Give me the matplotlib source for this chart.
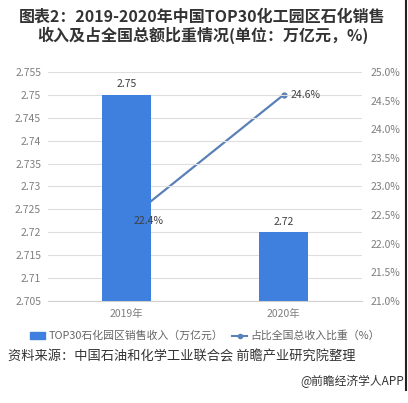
import matplotlib
matplotlib.use("Agg")
import matplotlib.pyplot as plt
from matplotlib.lines import Line2D
from matplotlib.patches import Patch

plt.rcParams['font.family'] = ['Noto Sans CJK SC', 'DejaVu Sans']

categories = ["2019年", "2020年"]
revenue = [2.75, 2.72]
share = [22.4, 24.6]
left_ticks = [2.705, 2.71, 2.715, 2.72, 2.725, 2.73, 2.735, 2.74, 2.745, 2.75, 2.755]
left_labels = ["2.705", "2.71", "2.715", "2.72", "2.725", "2.73", "2.735", "2.74", "2.745", "2.75", "2.755"]
right_ticks = [21.0, 21.5, 22.0, 22.5, 23.0, 23.5, 24.0, 24.5, 25.0]
right_labels = ["21.0%", "21.5%", "22.0%", "22.5%", "23.0%", "23.5%", "24.0%", "24.5%", "25.0%"]

bar_color = "#3f7fdd"
line_color = "#5a80b8"
tick_color = "#7f7f7f"

fig = plt.figure(figsize=(4.08, 4.03), dpi=100)
ax = fig.add_axes([48/408, 1-301/403, (362-48)/408, (301-72)/403])
ax.set_xlim(-0.5, 1.5)
ax.set_ylim(2.705, 2.755)
x = list(range(len(categories)))
ax.bar(x, revenue, width=0.31, color=bar_color, zorder=3)
ax.set_yticks(left_ticks)
ax.set_yticklabels(left_labels)
ax.set_xticks(x)
ax.set_xticklabels(categories)
ax.grid(axis='y', color="#dedede", linewidth=0.8, zorder=0)
for s in ['top', 'right', 'left']:
    ax.spines[s].set_visible(False)
ax.spines['bottom'].set_color("#d0d0d0")
ax.tick_params(axis='both', length=0, colors=tick_color, labelsize=7.5)
ax.tick_params(axis='y', pad=5)
ax.tick_params(axis='x', pad=6)
for xi, v in zip(x, revenue):
    ax.annotate(f"{v:.2f}", (xi, v), xytext=(0, 4), textcoords='offset points',
                ha='center', va='bottom', fontsize=7.5, color="#404040", zorder=5)

ax2 = ax.twinx()
ax2.set_ylim(21.0, 25.0)
ax2.set_yticks(right_ticks)
ax2.set_yticklabels(right_labels)
for s in ['top', 'right', 'left', 'bottom']:
    ax2.spines[s].set_visible(False)
ax2.tick_params(axis='y', length=0, colors=tick_color, labelsize=7.5, pad=6)
ax.set_zorder(2)
ax.patch.set_visible(False)
ax2.set_zorder(1)
ax2.plot(x, share, color=line_color, linewidth=1.6, marker='o', markersize=3.5, zorder=2)
for xi, v in zip(x, share):
    ax.annotate(f"{v:.1f}%", (xi, v), xycoords=ax2.transData, xytext=(5, 0), textcoords='offset points',
                ha='left', va='center', fontsize=7.5, color="#404040", zorder=10)

# Title
fig.text(202/408, 1-17/403, "图表2：2019-2020年中国TOP30化工园区石化销售", ha='center', va='center',
         fontsize=11.5, fontweight='bold', color="#333333")
fig.text(203/408, 1-35/403, "收入及占全国总额比重情况(单位：万亿元，%)", ha='center', va='center',
         fontsize=11.5, fontweight='bold', color="#333333")

# Legend
handles = [Patch(color=bar_color), Line2D([0], [0], color=line_color, marker='o', markersize=3, linewidth=1.5)]
labels = ["TOP30石化园区销售收入（万亿元）", "占比全国总收入比重（%）"]
fig.legend(handles, labels, loc='center', bbox_to_anchor=(205/408, 1-336/403), ncol=2, frameon=False,
           fontsize=7.8, labelcolor="#666666", handlelength=1.4, handleheight=0.5, handletextpad=0.3,
           columnspacing=0.8)

fig.text(8/408, 1-357/403, "资料来源：中国石油和化学工业联合会 前瞻产业研究院整理", ha='left', va='center',
         fontsize=9.5, color="#333333")
fig.text(404/408, 1-381/403, "@前瞻经济学人APP", ha='right', va='center', fontsize=8.5, color="#333333")

fig.add_artist(Line2D([405.5/408, 405.5/408], [1-390/403, 1.0], color="#222222", linewidth=1.5))

fig.savefig("out.png", dpi=100, facecolor='white')
